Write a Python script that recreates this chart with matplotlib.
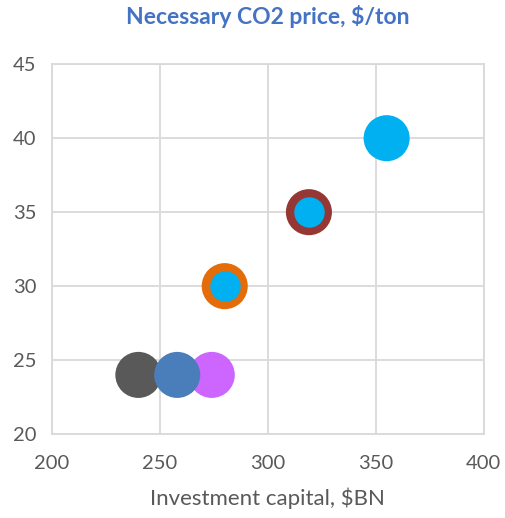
import matplotlib.pyplot as plt

# investment capital ($BN) vs necessary CO2 price ($/ton)
capital = [240, 274, 258, 280, 319, 355]
price = [24, 24, 24, 30, 35, 40]
colors = ['#595959', '#CC66FF', '#4A7EBB', '#E46C0A', '#953735', '#00B0F0']

# inner dots drawn on top of the ringed points
inner_capital = [280, 319]
inner_price = [30, 35]
inner_color = '#00B0F0'

xticks = [200, 250, 300, 350, 400]
yticks = [20, 25, 30, 35, 40, 45]

plt.rcParams['font.family'] = ['Lato', 'DejaVu Sans']

fig = plt.figure(figsize=(5.05, 5.18), dpi=100)
ax = fig.add_axes([0.103, 0.162, 0.855, 0.714])

ax.scatter(capital, price, s=1100, c=colors, linewidths=0, zorder=3)
ax.scatter(inner_capital, inner_price, s=480, c=inner_color, linewidths=0, zorder=4)

ax.set_xlim(200, 400)
ax.set_ylim(20, 45)
ax.set_xticks(xticks)
ax.set_yticks(yticks)
ax.grid(True, color='#D9D9D9', linewidth=1.3)
ax.set_axisbelow(True)
for s in ax.spines.values():
    s.set_color('#D9D9D9')
    s.set_linewidth(1.3)
ax.tick_params(length=0, labelsize=14.5, labelcolor='#595959')
ax.tick_params(axis='x', pad=15)
ax.tick_params(axis='y', pad=11)

ax.set_xlabel('Investment capital, $BN', fontsize=16, color='#595959', labelpad=11)
ax.set_title('Necessary CO2 price, $/ton', fontsize=16.5, fontweight='bold', color='#4472C4', pad=29)

fig.savefig('out.png', dpi=100)
